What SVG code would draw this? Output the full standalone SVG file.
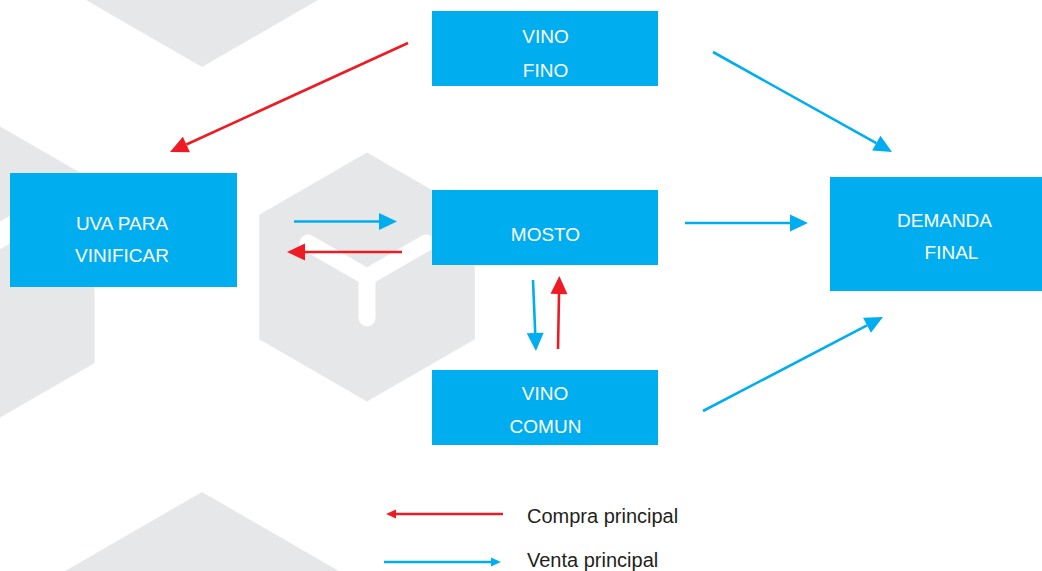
<svg xmlns="http://www.w3.org/2000/svg" width="1042" height="571" viewBox="0 0 1042 571">
  <style>
    .hex { fill: #E6E7E8; }
    .ystroke { fill: none; stroke: #FFFFFF; stroke-linecap: round; stroke-linejoin: round; }
    .box { fill: #00AEEF; }
    .lbl { font-family: "Liberation Sans", Arial, sans-serif; font-size: 19px; fill: #FFFFFF; text-anchor: middle; }
    .leg { font-family: "Liberation Sans", Arial, sans-serif; font-size: 20px; fill: #231F20; }
    .blue { stroke: #00AEEF; stroke-width: 2.6; fill: none; }
    .red { stroke: #ED1C24; stroke-width: 2.6; fill: none; }
    .blue.a { marker-end: url(#hb); }
    .red.a { marker-end: url(#hr); }
    .blue.s { marker-end: url(#sb); }
    .red.s { marker-end: url(#sr); }
  </style>
  <defs>
    <marker id="hb" markerUnits="userSpaceOnUse" markerWidth="20" markerHeight="20" refX="0" refY="10" orient="auto" overflow="visible">
      <path d="M0,1.5 L18,10 L0,18.5 z" fill="#00AEEF"/>
    </marker>
    <marker id="hr" markerUnits="userSpaceOnUse" markerWidth="20" markerHeight="20" refX="0" refY="10" orient="auto" overflow="visible">
      <path d="M0,1.5 L18,10 L0,18.5 z" fill="#ED1C24"/>
    </marker>
    <marker id="sb" markerUnits="userSpaceOnUse" markerWidth="12" markerHeight="12" refX="0" refY="6" orient="auto" overflow="visible">
      <path d="M0,1.5 L10,6 L0,10.5 z" fill="#00AEEF"/>
    </marker>
    <marker id="sr" markerUnits="userSpaceOnUse" markerWidth="12" markerHeight="12" refX="0" refY="6" orient="auto" overflow="visible">
      <path d="M0,1.5 L10,6 L0,10.5 z" fill="#ED1C24"/>
    </marker>
  </defs>

  <rect width="1042" height="571" fill="#FFFFFF"/>

  <g id="background">
    <polygon class="hex" points="202,-297 359.6,-206 359.6,-24 202,67 44.4,-24 44.4,-206"/>
    <polygon class="hex" points="202,492 359.6,583 359.6,765 202,856 44.4,765 44.4,583"/>
    <polygon class="hex" points="-63,90 94.6,181 94.6,363 -63,454 -220.6,363 -220.6,181"/>
    <polyline class="ystroke" stroke-width="24" points="23,222 -63,272 -149,222"/>
    <polygon class="hex" points="367,152.5 474.8,214.75 474.8,339.25 367,401.5 259.2,339.25 259.2,214.75"/>
    <polyline class="ystroke" stroke-width="17" points="308,243 367,277 426,243"/>
    <line class="ystroke" stroke-width="17" x1="367" y1="277" x2="367" y2="318"/>
  </g>

  <g id="node-vino-fino">
    <rect class="box" x="432" y="11" width="226" height="75"/>
    <text class="lbl" x="545.5" y="43">VINO</text>
    <text class="lbl" x="545.5" y="77">FINO</text>
  </g>
  <g id="node-uva">
    <rect class="box" x="10" y="173" width="227" height="114"/>
    <text class="lbl" x="122" y="230">UVA PARA</text>
    <text class="lbl" x="122" y="261.5">VINIFICAR</text>
  </g>
  <g id="node-mosto">
    <rect class="box" x="432" y="190" width="226" height="75"/>
    <text class="lbl" x="545.5" y="241">MOSTO</text>
  </g>
  <g id="node-vino-comun">
    <rect class="box" x="432" y="370" width="226" height="75"/>
    <text class="lbl" x="545" y="400">VINO</text>
    <text class="lbl" x="545.5" y="433">COMUN</text>
  </g>
  <g id="node-demanda">
    <rect class="box" x="830" y="177" width="212" height="114"/>
    <text class="lbl" x="944.5" y="227">DEMANDA</text>
    <text class="lbl" x="951.5" y="259">FINAL</text>
  </g>

  <g id="connectors">
    <line class="red a" x1="408" y1="43" x2="186.4" y2="144.5"/>
    <line class="blue a" x1="713" y1="52" x2="876.3" y2="143.2"/>
    <line class="blue a" x1="294" y1="221.5" x2="379" y2="221.5"/>
    <line class="red a" x1="402" y1="252" x2="305" y2="252"/>
    <line class="blue a" x1="685" y1="223" x2="790" y2="223"/>
    <line class="blue a" x1="533" y1="280" x2="535.2" y2="333"/>
    <line class="red a" x1="558" y1="349" x2="559" y2="294"/>
    <line class="blue a" x1="703" y1="411" x2="867" y2="325.3"/>
  </g>

  <g id="legend">
    <line class="red s" x1="503" y1="514" x2="396" y2="514"/>
    <text class="leg" x="527" y="523">Compra principal</text>
    <line class="blue s" x1="384" y1="562" x2="491" y2="562"/>
    <text class="leg" x="527" y="567">Venta principal</text>
  </g>
</svg>
